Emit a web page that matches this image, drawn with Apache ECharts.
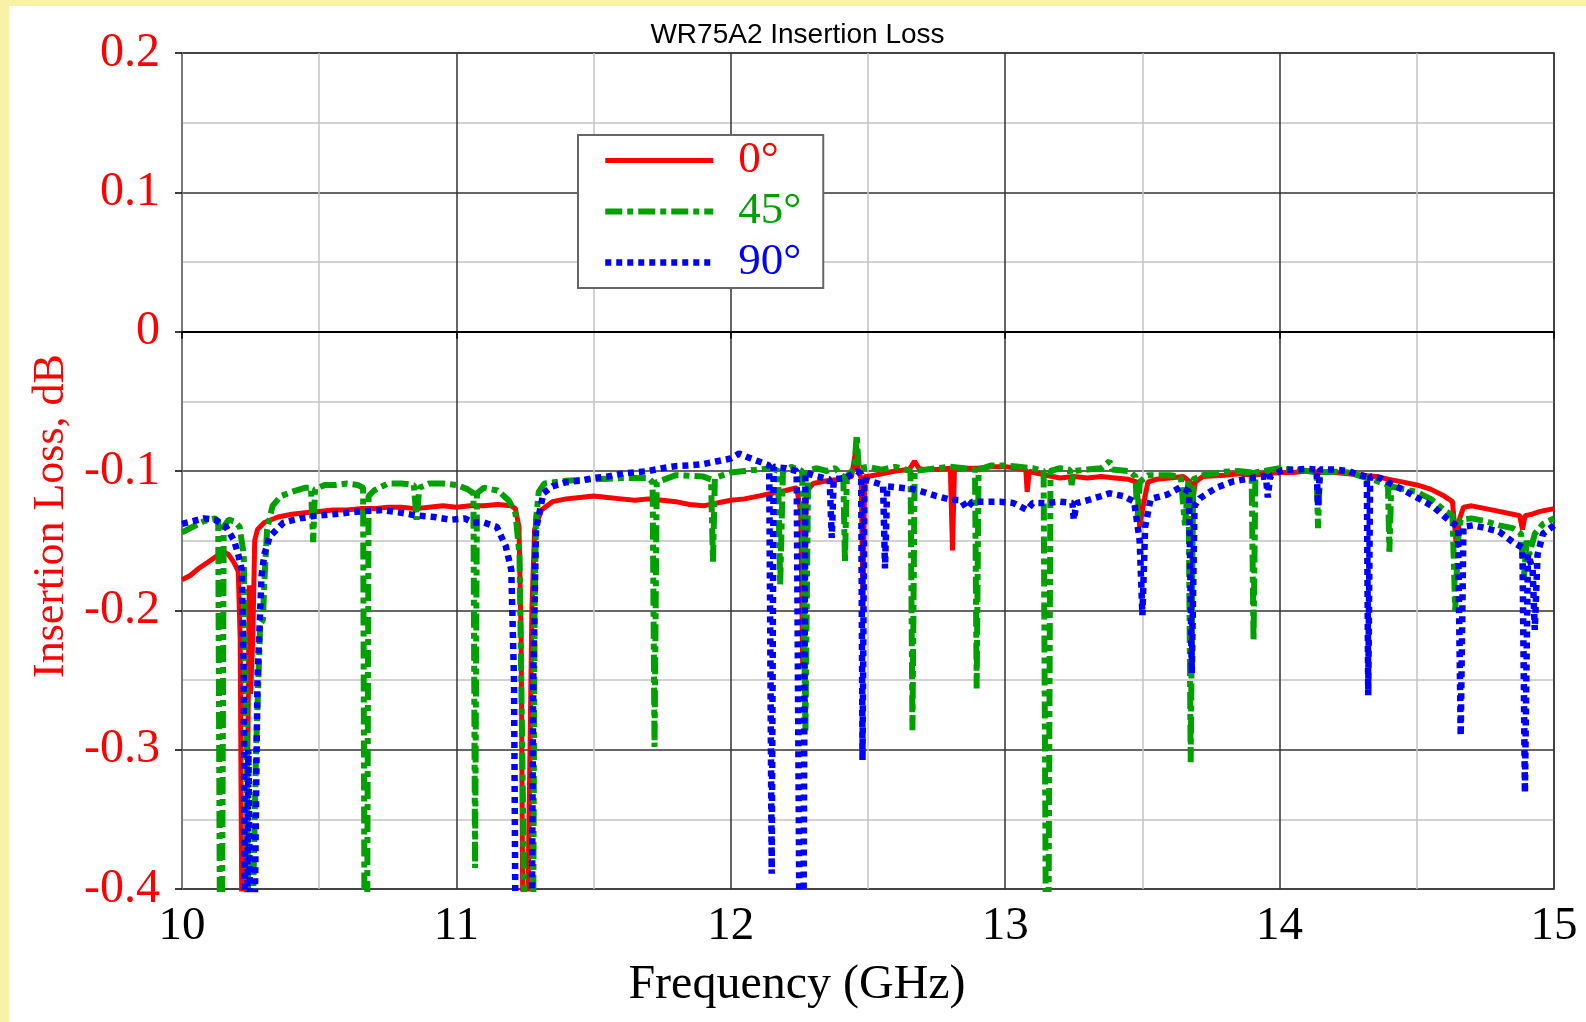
<!DOCTYPE html>
<html>
<head>
<meta charset="utf-8">
<title>WR75A2 Insertion Loss</title>
<script src="https://cdn.jsdelivr.net/npm/echarts@6/dist/echarts.min.js"></script>
<style>
  html, body { margin: 0; padding: 0; }
  body { width: 1586px; height: 1022px; background: #f9f1a6; position: relative; overflow: hidden; }
  #chart { position: absolute; left: 9px; top: 6px; width: 1577px; height: 1016px; background: #fff; }
</style>
</head>
<body>
<div id="chart"></div>
<script type="text/javascript">
  // [GHz, dB]
  const deg0 = [
    [10.00,-0.178],[10.03,-0.175],[10.06,-0.170],[10.09,-0.166],[10.12,-0.162],[10.15,-0.158],[10.17,-0.160],
    [10.19,-0.166],[10.205,-0.172],[10.212,-0.22],[10.218,-0.42],[10.232,-0.42],[10.240,-0.30],[10.245,-0.182],
    [10.250,-0.26],[10.258,-0.22],[10.265,-0.15],[10.275,-0.142],[10.30,-0.137],[10.35,-0.133],[10.40,-0.131],
    [10.45,-0.130],[10.50,-0.129],[10.55,-0.128],[10.60,-0.128],[10.65,-0.127],[10.70,-0.127],[10.75,-0.126],
    [10.80,-0.126],[10.85,-0.127],[10.90,-0.126],[10.95,-0.125],[11.00,-0.126],[11.05,-0.125],[11.10,-0.125],
    [11.15,-0.124],[11.20,-0.125],[11.215,-0.127],[11.228,-0.14],[11.236,-0.22],[11.242,-0.42],[11.26,-0.42],
    [11.275,-0.20],[11.285,-0.142],[11.31,-0.128],[11.35,-0.122],[11.40,-0.120],[11.45,-0.119],[11.50,-0.118],
    [11.55,-0.119],[11.60,-0.120],[11.65,-0.121],[11.70,-0.120],[11.75,-0.121],[11.80,-0.122],[11.85,-0.124],
    [11.90,-0.125],[11.95,-0.123],[12.00,-0.121],[12.05,-0.120],[12.10,-0.118],[12.15,-0.116],[12.20,-0.114],
    [12.24,-0.112],[12.255,-0.13],[12.262,-0.24],[12.268,-0.20],[12.275,-0.115],[12.30,-0.109],[12.35,-0.107],
    [12.40,-0.106],[12.44,-0.104],[12.458,-0.082],[12.465,-0.100],[12.475,-0.105],[12.482,-0.20],[12.488,-0.104],
    [12.50,-0.104],[12.55,-0.102],[12.60,-0.100],[12.65,-0.099],[12.67,-0.093],[12.685,-0.098],[12.70,-0.099],
    [12.75,-0.099],[12.80,-0.098],[12.808,-0.157],[12.815,-0.099],[12.85,-0.098],[12.90,-0.098],[12.95,-0.097],
    [13.00,-0.097],[13.05,-0.098],[13.075,-0.099],[13.08,-0.115],[13.088,-0.100],[13.10,-0.101],[13.15,-0.103],
    [13.20,-0.105],[13.25,-0.104],[13.30,-0.105],[13.35,-0.104],[13.40,-0.105],[13.45,-0.106],[13.48,-0.108],
    [13.49,-0.14],[13.50,-0.128],[13.52,-0.108],[13.55,-0.106],[13.60,-0.105],[13.65,-0.104],[13.675,-0.108],
    [13.683,-0.124],[13.692,-0.108],[13.72,-0.104],[13.80,-0.103],[13.85,-0.102],[13.90,-0.103],[13.95,-0.102],
    [14.00,-0.101],[14.05,-0.101],[14.10,-0.100],[14.15,-0.101],[14.20,-0.101],[14.25,-0.102],[14.30,-0.103],
    [14.35,-0.104],[14.40,-0.106],[14.45,-0.108],[14.50,-0.110],[14.55,-0.113],[14.60,-0.118],[14.63,-0.122],
    [14.645,-0.155],[14.655,-0.135],[14.67,-0.126],[14.70,-0.125],[14.75,-0.127],[14.80,-0.129],[14.85,-0.131],
    [14.875,-0.132],[14.885,-0.142],[14.895,-0.132],[14.92,-0.131],[14.95,-0.129],[15.00,-0.127]
  ]
  const deg45 = [
    [10.00,-0.144],[10.04,-0.140],[10.08,-0.136],[10.12,-0.134],[10.132,-0.136],[10.138,-0.42],[10.146,-0.42],
    [10.152,-0.140],[10.17,-0.135],[10.19,-0.136],[10.21,-0.140],[10.225,-0.16],[10.235,-0.30],[10.242,-0.42],
    [10.258,-0.42],[10.27,-0.30],[10.285,-0.21],[10.295,-0.207],[10.30,-0.18],[10.31,-0.142],[10.33,-0.125],
    [10.36,-0.118],[10.40,-0.115],[10.45,-0.112],[10.47,-0.112],[10.478,-0.151],[10.485,-0.113],[10.52,-0.110],
    [10.56,-0.110],[10.60,-0.109],[10.64,-0.110],[10.66,-0.112],[10.665,-0.42],[10.675,-0.42],[10.68,-0.118],
    [10.70,-0.114],[10.75,-0.109],[10.80,-0.109],[10.845,-0.110],[10.855,-0.135],[10.865,-0.112],[10.90,-0.109],
    [10.95,-0.109],[11.00,-0.110],[11.04,-0.113],[11.062,-0.116],[11.068,-0.385],[11.075,-0.116],[11.10,-0.112],
    [11.15,-0.114],[11.19,-0.121],[11.215,-0.13],[11.23,-0.16],[11.24,-0.30],[11.248,-0.42],[11.28,-0.42],
    [11.285,-0.20],[11.29,-0.135],[11.30,-0.115],[11.32,-0.109],[11.40,-0.107],[11.50,-0.106],[11.60,-0.105],
    [11.70,-0.105],[11.715,-0.108],[11.722,-0.298],[11.73,-0.108],[11.80,-0.103],[11.90,-0.104],[11.928,-0.106],
    [11.935,-0.165],[11.942,-0.105],[12.00,-0.101],[12.05,-0.100],[12.10,-0.099],[12.15,-0.098],[12.172,-0.100],
    [12.18,-0.182],[12.19,-0.100],[12.22,-0.097],[12.26,-0.100],[12.272,-0.287],[12.282,-0.100],[12.31,-0.098],
    [12.35,-0.100],[12.38,-0.098],[12.41,-0.104],[12.416,-0.165],[12.423,-0.104],[12.45,-0.098],[12.459,-0.074],
    [12.466,-0.098],[12.50,-0.097],[12.55,-0.099],[12.60,-0.097],[12.655,-0.100],[12.662,-0.286],[12.67,-0.100],
    [12.75,-0.098],[12.80,-0.097],[12.85,-0.098],[12.89,-0.099],[12.896,-0.256],[12.903,-0.099],[12.95,-0.096],
    [13.00,-0.096],[13.05,-0.097],[13.10,-0.098],[13.14,-0.100],[13.148,-0.42],[13.158,-0.42],[13.165,-0.100],
    [13.20,-0.098],[13.235,-0.099],[13.242,-0.110],[13.25,-0.100],[13.30,-0.099],[13.35,-0.098],[13.38,-0.093],
    [13.39,-0.099],[13.45,-0.100],[13.475,-0.104],[13.482,-0.136],[13.49,-0.108],[13.52,-0.103],[13.60,-0.103],
    [13.64,-0.104],[13.655,-0.139],[13.668,-0.106],[13.676,-0.309],[13.685,-0.106],[13.72,-0.103],[13.80,-0.1005],
    [13.85,-0.100],[13.898,-0.101],[13.905,-0.222],[13.912,-0.101],[14.00,-0.098],[14.05,-0.099],[14.10,-0.100],
    [14.135,-0.101],[14.14,-0.141],[14.147,-0.101],[14.20,-0.1005],[14.25,-0.101],[14.30,-0.104],[14.35,-0.107],
    [14.395,-0.110],[14.40,-0.158],[14.407,-0.111],[14.45,-0.113],[14.50,-0.115],[14.55,-0.120],[14.60,-0.128],
    [14.63,-0.132],[14.64,-0.200],[14.65,-0.150],[14.66,-0.135],[14.70,-0.134],[14.75,-0.136],[14.80,-0.139],
    [14.85,-0.141],[14.88,-0.145],[14.89,-0.178],[14.90,-0.150],[14.91,-0.160],[14.93,-0.145],[14.96,-0.138],
    [15.00,-0.134]
  ]
  const deg90 = [
    [10.00,-0.138],[10.04,-0.136],[10.08,-0.134],[10.12,-0.135],[10.16,-0.140],[10.19,-0.150],[10.205,-0.160],
    [10.218,-0.171],[10.225,-0.25],[10.23,-0.42],[10.238,-0.42],[10.242,-0.30],[10.248,-0.42],[10.265,-0.42],
    [10.275,-0.25],[10.29,-0.175],[10.30,-0.160],[10.32,-0.147],[10.37,-0.137],[10.43,-0.134],[10.49,-0.132],
    [10.55,-0.131],[10.60,-0.130],[10.65,-0.129],[10.73,-0.128],[10.80,-0.130],[10.855,-0.132],[10.92,-0.133],
    [10.98,-0.135],[11.03,-0.134],[11.06,-0.137],[11.10,-0.137],[11.147,-0.140],[11.18,-0.154],[11.20,-0.171],
    [11.21,-0.25],[11.215,-0.42],[11.275,-0.42],[11.28,-0.25],[11.29,-0.142],[11.317,-0.116],[11.35,-0.111],
    [11.40,-0.108],[11.45,-0.107],[11.50,-0.105],[11.55,-0.104],[11.60,-0.102],[11.65,-0.101],[11.70,-0.100],
    [11.75,-0.098],[11.80,-0.0965],[11.85,-0.096],[11.90,-0.095],[11.95,-0.093],[12.00,-0.091],[12.03,-0.0875],
    [12.06,-0.090],[12.10,-0.093],[12.14,-0.096],[12.149,-0.389],[12.156,-0.097],[12.20,-0.098],[12.24,-0.100],
    [12.25,-0.42],[12.265,-0.42],[12.272,-0.101],[12.30,-0.103],[12.36,-0.106],[12.368,-0.148],[12.375,-0.106],
    [12.42,-0.105],[12.46,-0.100],[12.475,-0.102],[12.48,-0.3075],[12.487,-0.106],[12.52,-0.108],[12.555,-0.110],
    [12.562,-0.170],[12.57,-0.111],[12.62,-0.112],[12.665,-0.113],[12.70,-0.115],[12.75,-0.118],[12.80,-0.1205],
    [12.84,-0.121],[12.86,-0.127],[12.88,-0.122],[12.93,-0.122],[12.98,-0.122],[13.03,-0.123],[13.08,-0.128],
    [13.10,-0.123],[13.15,-0.123],[13.20,-0.122],[13.245,-0.123],[13.25,-0.135],[13.26,-0.123],[13.30,-0.121],
    [13.35,-0.118],[13.38,-0.116],[13.43,-0.118],[13.47,-0.122],[13.49,-0.150],[13.50,-0.2035],[13.51,-0.140],
    [13.53,-0.120],[13.59,-0.117],[13.64,-0.1115],[13.67,-0.115],[13.68,-0.245],[13.69,-0.125],[13.71,-0.1195],
    [13.77,-0.112],[13.83,-0.1075],[13.90,-0.105],[13.95,-0.104],[13.957,-0.119],[13.965,-0.104],[14.01,-0.0993],
    [14.06,-0.099],[14.10,-0.0985],[14.135,-0.099],[14.14,-0.125],[14.147,-0.099],[14.20,-0.099],[14.25,-0.100],
    [14.29,-0.1027],[14.318,-0.104],[14.323,-0.261],[14.33,-0.104],[14.366,-0.105],[14.44,-0.1125],[14.50,-0.119],
    [14.56,-0.1256],[14.62,-0.136],[14.65,-0.140],[14.66,-0.290],[14.67,-0.140],[14.705,-0.139],[14.75,-0.141],
    [14.80,-0.1435],[14.85,-0.151],[14.885,-0.155],[14.894,-0.331],[14.905,-0.160],[14.922,-0.170],[14.93,-0.214],
    [14.94,-0.160],[14.96,-0.145],[15.00,-0.139]
  ]
  const seriesNames = ['0°', '45°', '90°']
  const seriesColors = ['#ff0000', '#00a000', '#0000ff']

  const SERIF = "'Liberation Serif', 'Times New Roman', serif"
  const myChart = echarts.init(document.getElementById('chart'))

  const option = {
    animation: false,
    title: {
      text: 'WR75A2 Insertion Loss',
      left: 'center',
      top: 10,
      textStyle: {
        fontFamily: "'Liberation Sans', Arial, sans-serif",
        fontSize: 28,
        fontWeight: 'normal',
        color: '#000'
      }
    },
    grid: {
      left: 173,
      right: 32,
      top: 47,
      bottom: 133,
      show: true,
      backgroundColor: '#fff',
      borderColor: '#777',
      borderWidth: 2
    },
    legend: {
      orient: 'vertical',
      left: 569,
      top: 129,
      padding: [3, 22, 3, 24],
      itemGap: 6,
      itemWidth: 108,
      itemHeight: 14,
      backgroundColor: '#fff',
      borderColor: '#666',
      borderWidth: 2,
      itemStyle: { opacity: 0 },
      lineStyle: { width: 'inherit', type: 'inherit', cap: 'butt' },
      textStyle: {
        fontFamily: SERIF,
        fontSize: 45,
        padding: [0, 0, 0, 20]
      },
      data: seriesNames.map((name, i) => ({
        name: name,
        textStyle: { color: seriesColors[i] }
      }))
    },
    xAxis: {
      type: 'value',
      min: 10,
      max: 15,
      interval: 1,
      name: 'Frequency (GHz)',
      nameLocation: 'middle',
      nameGap: 72,
      nameTextStyle: {
        fontFamily: SERIF,
        fontSize: 48,
        color: '#000',
        padding: [0, 142, 0, 0]
      },
      axisLine: { lineStyle: { color: '#000', width: 2 } },
      axisTick: { show: true, length: 7, lineStyle: { color: '#000', width: 1.5 } },
      axisLabel: { fontFamily: SERIF, fontSize: 47, color: '#000', margin: 14 },
      splitLine: { show: true, lineStyle: { color: '#333', width: 1.5 } },
      minorTick: { show: false, splitNumber: 2 },
      minorSplitLine: { show: true, lineStyle: { color: '#c4c4c4', width: 1.5 } }
    },
    yAxis: {
      type: 'value',
      min: -0.4,
      max: 0.2,
      interval: 0.1,
      name: 'Insertion Loss, dB',
      nameLocation: 'middle',
      nameRotate: 90,
      nameGap: 105,
      nameTextStyle: {
        fontFamily: SERIF,
        fontSize: 44,
        color: '#ff0000',
        padding: [0, 90, 0, 0]
      },
      axisLine: { show: true, lineStyle: { color: '#777', width: 2 } },
      axisTick: { show: true, length: 7, lineStyle: { color: '#000', width: 1.5 } },
      axisLabel: {
        fontFamily: SERIF,
        fontSize: 48,
        color: '#ff0000',
        margin: 22,
        formatter: (v) => String(Math.round(v * 10) / 10)
      },
      splitLine: { show: true, lineStyle: { color: '#333', width: 1.5 } },
      minorTick: { show: false, splitNumber: 2 },
      minorSplitLine: { show: true, lineStyle: { color: '#c4c4c4', width: 1.5 } }
    },
    series: [{
      name: seriesNames[0],
      type: 'line',
      data: deg0,
      symbol: 'none',
      color: seriesColors[0],
      lineStyle: { color: seriesColors[0], width: 5, type: 'solid', join: 'bevel' }
    }, {
      name: seriesNames[1],
      type: 'line',
      data: deg45,
      symbol: 'none',
      color: seriesColors[1],
      lineStyle: { color: seriesColors[1], width: 6, type: [17, 5, 6, 5], cap: 'butt', join: 'bevel' }
    }, {
      name: seriesNames[2],
      type: 'line',
      data: deg90,
      symbol: 'none',
      color: seriesColors[2],
      lineStyle: { color: seriesColors[2], width: 6.5, type: [6, 5], cap: 'butt', join: 'bevel' }
    }]
  }
  myChart.setOption(option)
</script>
</body>
</html>
